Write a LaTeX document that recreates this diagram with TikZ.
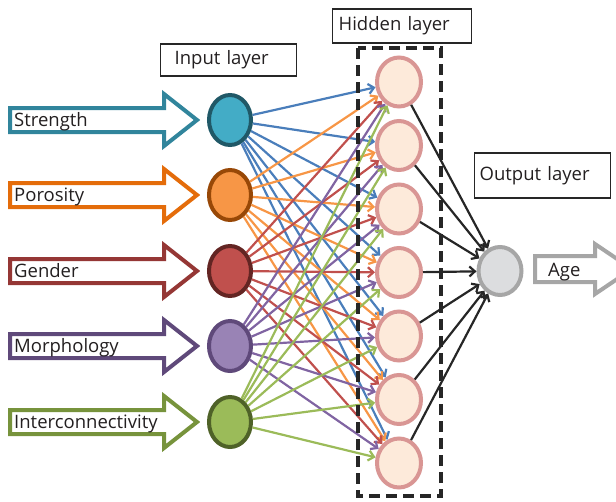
\documentclass[tikz,border=0pt]{standalone}
\usepackage{fontspec}
\setmainfont{Open Sans}
\usepackage{tikz}
\usetikzlibrary{arrows.meta}
\usetikzlibrary{shapes.geometric}

\definecolor{textgray}{HTML}{231F20}
\definecolor{strengthline}{HTML}{31859C}
\definecolor{strengthfill}{HTML}{43ACC6}
\definecolor{strengthring}{HTML}{205867}
\definecolor{strengthedge}{HTML}{4A7EBB}
\definecolor{porosityline}{HTML}{E46C0A}
\definecolor{porosityfill}{HTML}{F79646}
\definecolor{porosityring}{HTML}{984807}
\definecolor{porosityedge}{HTML}{F79646}
\definecolor{genderline}{HTML}{953735}
\definecolor{genderfill}{HTML}{C0504D}
\definecolor{genderring}{HTML}{632523}
\definecolor{genderedge}{HTML}{C0504D}
\definecolor{morphline}{HTML}{5F497A}
\definecolor{morphfill}{HTML}{9983B5}
\definecolor{morphring}{HTML}{5F497A}
\definecolor{morphedge}{HTML}{8064A2}
\definecolor{interline}{HTML}{77933C}
\definecolor{interfill}{HTML}{9BBB59}
\definecolor{interring}{HTML}{4F6228}
\definecolor{interedge}{HTML}{9BBB59}
\definecolor{hiddenfill}{HTML}{FDEADA}
\definecolor{hiddenring}{HTML}{D99694}
\definecolor{outfill}{HTML}{DCDDDF}
\definecolor{outring}{HTML}{A6A6A6}

\begin{document}
\begin{tikzpicture}[x=1pt, y=-1pt, font=\fontsize{18.5}{21}\selectfont, text=textgray,
        in_node_style/.style 2 args={ellipse,draw=#1,fill=#2,line width=4pt,minimum width=42pt,minimum height=50pt,inner sep=0pt},
        hidden_node_style/.style={ellipse,draw=hiddenring,fill=hiddenfill,line width=4pt,minimum width=44pt,minimum height=49pt,inner sep=0pt},
        out_node_style/.style={ellipse,draw=outring,fill=outfill,line width=4pt,minimum width=43pt,minimum height=48pt,inner sep=0pt},
        block_arrow_style/.style={draw=#1,fill=white,line width=4pt,line join=miter},
        label_style/.style={anchor=base west,inner sep=0pt},
        layer_box_style/.style={draw=black!85,line width=1.3pt,anchor=west,align=left,inner ysep=0pt},
        edge_style/.style={draw=#1,line width=2.2pt,-{Straight Barb[length=5.5pt,width=10pt]}},
        out_edge_style/.style={draw=black!85,line width=2.2pt,-{Straight Barb[length=5.5pt,width=10pt]}},
        hidden_frame_style/.style={draw=black!85,line width=3.5pt,dash pattern=on 11pt off 6pt}]

        \useasboundingbox (0,0) rectangle (616,501);

        % input arrows
        \draw [block_arrow_style=strengthline] (10,108) -- (164,108) -- (164,94) -- (197,120) -- (164,146) -- (164,132) -- (10,132) -- cycle;
        \draw [block_arrow_style=porosityline] (10,183) -- (164,183) -- (164,169) -- (197,195) -- (164,221) -- (164,207) -- (10,207) -- cycle;
        \draw [block_arrow_style=genderline] (10,259) -- (164,259) -- (164,245) -- (197,271) -- (164,297) -- (164,283) -- (10,283) -- cycle;
        \draw [block_arrow_style=morphline] (10,334) -- (164,334) -- (164,320) -- (197,346) -- (164,372) -- (164,358) -- (10,358) -- cycle;
        \draw [block_arrow_style=interline] (10,410) -- (164,410) -- (164,396) -- (197,422) -- (164,448) -- (164,434) -- (10,434) -- cycle;

        \node [label_style](l_strength) at (14,126) {Strength};
        \node [label_style](l_porosity) at (14,201) {Porosity};
        \node [label_style](l_gender) at (14,277) {Gender};
        \node [label_style](l_morph) at (14,352) {Morphology};
        \node [label_style](l_inter) at (14,428) {Interconnectivity};

        % output arrow
        \draw [block_arrow_style=outring] (535,256) -- (595,256) -- (595,244) -- (632,269) -- (595,294) -- (595,282) -- (535,282) -- cycle;
        \node [label_style](l_age) at (548,276) {Age};

        % layer titles
        \node [layer_box_style,inner xsep=14pt,text width=108pt,minimum height=32pt](t_input) at (160,60) {Input layer};
        \node [layer_box_style,inner xsep=6pt,text width=127pt,minimum height=34pt](t_hidden) at (332,26) {Hidden layer};
        \node [layer_box_style,inner xsep=5pt,text width=126pt,minimum height=45pt](t_output) at (474,175.5) {Output layer};

        % nodes
        \node [in_node_style={strengthring}{strengthfill}](i1) at (230,120) {};
        \node [in_node_style={porosityring}{porosityfill}](i2) at (230,195) {};
        \node [in_node_style={genderring}{genderfill}](i3) at (230,271) {};
        \node [in_node_style={morphring}{morphfill}](i4) at (230,346) {};
        \node [in_node_style={interring}{interfill}](i5) at (230,422) {};

        \node [hidden_node_style](h1) at (399,82) {};
        \node [hidden_node_style](h2) at (399,145.5) {};
        \node [hidden_node_style](h3) at (399,209) {};
        \node [hidden_node_style](h4) at (399,272.5) {};
        \node [hidden_node_style](h5) at (399,336) {};
        \node [hidden_node_style](h6) at (399,399.5) {};
        \node [hidden_node_style](h7) at (399,463) {};

        \node [out_node_style](o1) at (500,271) {};

        % input to hidden
        \draw [edge_style=strengthedge] (i1) edge (h1);
        \draw [edge_style=strengthedge] (i1) edge (h2);
        \draw [edge_style=strengthedge] (i1) edge (h3);
        \draw [edge_style=strengthedge] (i1) edge (h4);
        \draw [edge_style=strengthedge] (i1) edge (h5);
        \draw [edge_style=strengthedge] (i1) edge (h6);
        \draw [edge_style=strengthedge] (i1) edge (h7);

        \draw [edge_style=porosityedge] (i2) edge (h1);
        \draw [edge_style=porosityedge] (i2) edge (h2);
        \draw [edge_style=porosityedge] (i2) edge (h3);
        \draw [edge_style=porosityedge] (i2) edge (h4);
        \draw [edge_style=porosityedge] (i2) edge (h5);
        \draw [edge_style=porosityedge] (i2) edge (h6);
        \draw [edge_style=porosityedge] (i2) edge (h7);

        \draw [edge_style=genderedge] (i3) edge (h1);
        \draw [edge_style=genderedge] (i3) edge (h2);
        \draw [edge_style=genderedge] (i3) edge (h3);
        \draw [edge_style=genderedge] (i3) edge (h4);
        \draw [edge_style=genderedge] (i3) edge (h5);
        \draw [edge_style=genderedge] (i3) edge (h6);
        \draw [edge_style=genderedge] (i3) edge (h7);

        \draw [edge_style=morphedge] (i4) edge (h1);
        \draw [edge_style=morphedge] (i4) edge (h2);
        \draw [edge_style=morphedge] (i4) edge (h3);
        \draw [edge_style=morphedge] (i4) edge (h4);
        \draw [edge_style=morphedge] (i4) edge (h5);
        \draw [edge_style=morphedge] (i4) edge (h6);
        \draw [edge_style=morphedge] (i4) edge (h7);

        \draw [edge_style=interedge] (i5) edge (h1);
        \draw [edge_style=interedge] (i5) edge (h2);
        \draw [edge_style=interedge] (i5) edge (h3);
        \draw [edge_style=interedge] (i5) edge (h4);
        \draw [edge_style=interedge] (i5) edge (h5);
        \draw [edge_style=interedge] (i5) edge (h6);
        \draw [edge_style=interedge] (i5) edge (h7);

        % hidden to output
        \draw [out_edge_style] (h1) edge (o1);
        \draw [out_edge_style] (h2) edge (o1);
        \draw [out_edge_style] (h3) edge (o1);
        \draw [out_edge_style] (h4) edge (o1);
        \draw [out_edge_style] (h5) edge (o1);
        \draw [out_edge_style] (h6) edge (o1);
        \draw [out_edge_style] (h7) edge (o1);

        % hidden layer frame
        \draw [hidden_frame_style] (358,48) rectangle (441,496);

        \end{tikzpicture}
\end{document}
